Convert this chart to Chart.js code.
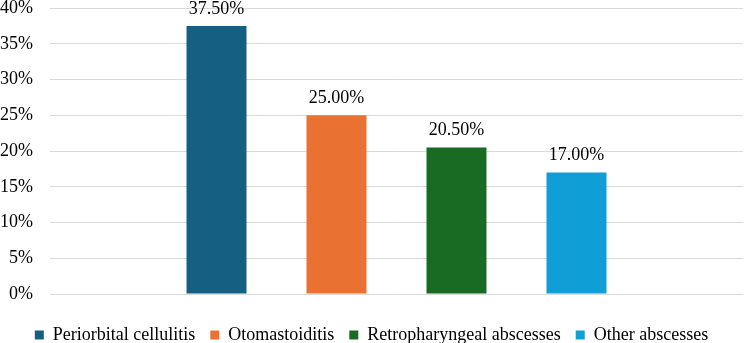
<!DOCTYPE html>
<html>
<head>
<meta charset="utf-8">
<script src="https://cdn.jsdelivr.net/npm/chart.js@4.4.1/dist/chart.umd.min.js"></script>
<style>
  html, body { margin: 0; padding: 0; background: #fff; }
</style>
</head>
<body>
<canvas id="chart" width="744" height="343"></canvas>
<script>
const categories = ['Periorbital cellulitis', 'Otomastoiditis', 'Retropharyngeal abscesses', 'Other abscesses'];
const values = [37.5, 25.0, 20.5, 17.0];
const barColors = ['#156082', '#E97132', '#196B24', '#0F9ED5'];
const yTicks = [0, 5, 10, 15, 20, 25, 30, 35, 40];

const serif = "'Liberation Serif', 'Times New Roman', serif";

// etiquetas de valor encima de cada barra
const valueLabels = {
    id: 'valueLabels',
    afterDatasetsDraw(chart) {
        const ctx = chart.ctx;
        ctx.save();
        ctx.font = '18px ' + serif;
        ctx.fillStyle = '#000';
        ctx.textAlign = 'center';
        ctx.textBaseline = 'alphabetic';
        chart.data.datasets.forEach((ds, i) => {
            chart.getDatasetMeta(i).data.forEach((bar, j) => {
                ctx.fillText(ds.data[j].toFixed(2) + '%', bar.x, bar.y - 12);
            });
        });
        ctx.restore();
    }
};

const datasets = categories.map((name, i) => ({
    label: name,
    data: [values[i]],
    backgroundColor: barColors[i],
    borderWidth: 0,
    categoryPercentage: 0.6926,
    barPercentage: 0.5
}));

new Chart(document.getElementById('chart'), {
    type: 'bar',
    data: { labels: [''], datasets: datasets },
    options: {
        responsive: false,
        animation: false,
        layout: { padding: { top: 0, right: 1, bottom: -11, left: 0 } },
        plugins: {
            legend: {
                position: 'bottom',
                labels: {
                    boxWidth: 9,
                    boxHeight: 9,
                    padding: 15,
                    color: '#000',
                    font: { family: serif, size: 18 }
                }
            },
            tooltip: { enabled: false }
        },
        scales: {
            x: {
                grid: { display: false, drawTicks: true, tickLength: 17, tickColor: 'transparent' },
                border: { display: false },
                ticks: { display: false }
            },
            y: {
                min: 0,
                max: 40,
                afterBuildTicks: axis => { axis.ticks = yTicks.map(v => ({ value: v })); },
                grid: { color: '#D9D9D9', lineWidth: 1, drawTicks: true, tickLength: 17, tickColor: 'transparent' },
                border: { display: false },
                ticks: {
                    padding: 0,
                    color: '#000',
                    font: { family: serif, size: 18, lineHeight: 0.9 },
                    callback: v => v + '%'
                }
            }
        }
    },
    plugins: [valueLabels]
});
</script>
</body>
</html>
